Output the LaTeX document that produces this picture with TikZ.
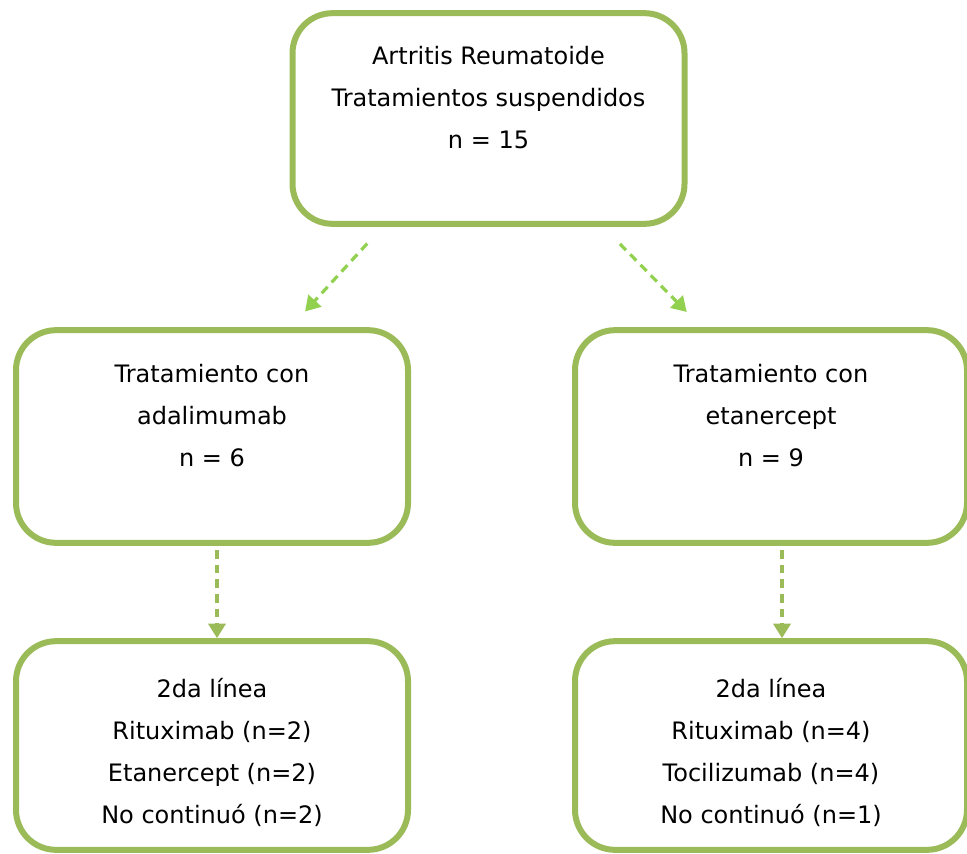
\documentclass[tikz,border=0pt]{standalone}
\usepackage{fontspec}
\setmainfont{DejaVu Sans}
\usepackage{tikz}
\usetikzlibrary{positioning,arrows.meta}
\usepackage{xcolor}
\definecolor{boxgreen}{HTML}{9BBB59}
\definecolor{arrowgreen}{HTML}{92D050}

\begin{document}
\begin{tikzpicture}[
    x=0.75pt, y=-0.75pt,
    box/.style={draw=boxgreen, line width=4.5pt, rounded corners=30pt, align=center,
      minimum width=294pt, font=\fontsize{18}{31.5}\selectfont},
    arr/.style={draw=#1, line width=2.4pt, dash pattern=on 6.5pt off 4.5pt,
      -{Triangle[length=11pt,width=13pt]}},
  ]
    \useasboundingbox (0,0) rectangle (967,853);
    \node[box, minimum height=158pt] (top) at (488.5,118.5) {Artritis Reumatoide\\Tratamientos suspendidos\\n = 15\\ };
    \node[box, minimum height=159.5pt] (adal) at (212,436.5) {Tratamiento con\\adalimumab\\n = 6\\ };
    \node[box, minimum height=159.5pt] (etan) at (771,436.5) {Tratamiento con\\etanercept\\n = 9\\ };
    \node[box, minimum height=156.5pt] (adal2) at (212,745.5)
      {\begin{tabular}{c}\rule{0pt}{32.5pt}2da línea\\Rituximab (n=2)\\Etanercept (n=2)\\No continuó (n=2)\end{tabular}};
    \node[box, minimum height=156.5pt] (etan2) at (771,745.5)
      {\begin{tabular}{c}\rule{0pt}{32.5pt}2da línea\\Rituximab (n=4)\\Tocilizumab (n=4)\\No continuó (n=1)\end{tabular}};

    \draw[arr=arrowgreen, shorten <=17pt, shorten >=16pt] ([xshift=-79.5pt]top.south) -- ([xshift=59pt]adal.north);
    \draw[arr=arrowgreen, shorten <=18pt, shorten >=16pt] ([xshift=86pt]top.south) -- ([xshift=-52pt]etan.north);
    \draw[arr=boxgreen, shorten <=3pt, shorten >=0pt] ([xshift=3.75pt]adal.south) -- ([xshift=3.75pt]adal2.north);
    \draw[arr=boxgreen, shorten <=3pt, shorten >=0pt] ([xshift=8.25pt]etan.south) -- ([xshift=8.25pt]etan2.north);
\end{tikzpicture}
\end{document}
